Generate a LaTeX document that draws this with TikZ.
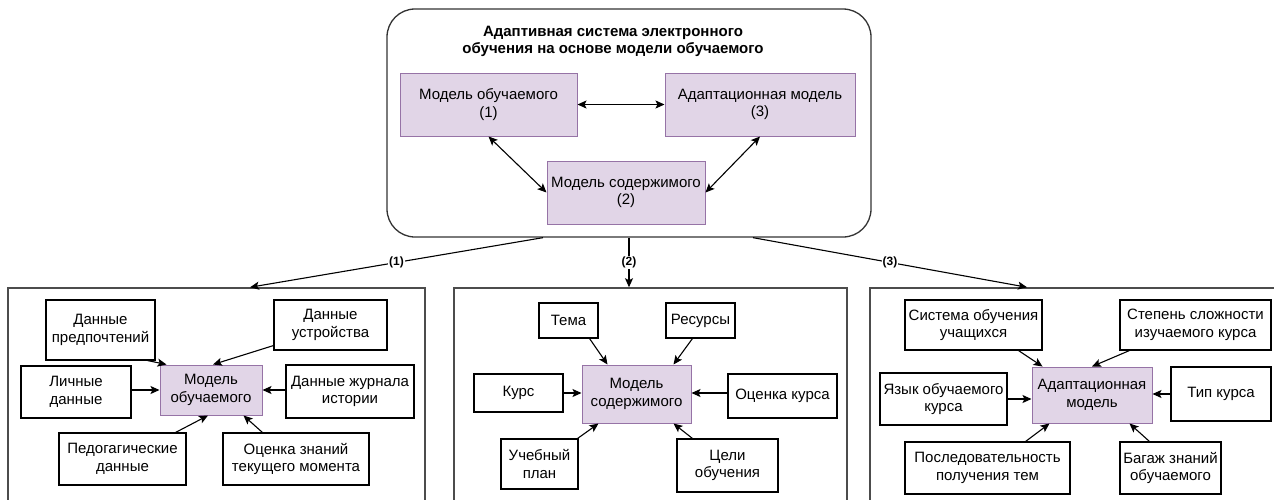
\documentclass[tikz,border=0pt]{standalone}
\usepackage{fontspec}
\setmainfont{Liberation Sans}
\usetikzlibrary{arrows.meta,calc}
\definecolor{pfill}{HTML}{E1D5E7}
\definecolor{pdraw}{HTML}{9673A6}
\begin{document}
\begin{tikzpicture}[x=1pt,y=-1pt,
  txt/.style={font=\fontsize{15}{17.5}\selectfont},
  box/.style={txt, draw=black, line width=1.1pt, fill=white, align=center, inner sep=1pt},
  pbox/.style={txt, draw=pdraw, fill=pfill, line width=1pt, align=center, inner sep=1pt},
  panel/.style={draw=black!70, line width=1.5pt},
  sysbox/.style={draw=black!80, line width=1.3pt, rounded corners=28pt},
  arr/.style={line width=1.1pt, -{Stealth[length=9pt,width=8pt,inset=2pt]}},
  darr/.style={line width=1.1pt, {Stealth[length=9pt,width=8pt,inset=2pt]}-{Stealth[length=9pt,width=8pt,inset=2pt]}},
  lab/.style={fill=white, inner sep=1pt, font=\bfseries\fontsize{12}{14}\selectfont},
  wh/.style 2 args={minimum width=#1pt, minimum height=#2pt}
]
\useasboundingbox (0,0) rectangle (1274,499);
\clip (0,0) rectangle (1274,499);

% ---------- top system box ----------
\node[sysbox, wh={484}{228}] (sys) at (629,123) {};
\node[font=\bfseries\fontsize{15}{17.5}\selectfont, align=center] (title) at (613,41.5)
  {Адаптивная система электронного\\обучения на основе модели обучаемого};
\node[pbox, wh={177}{63}] (b1) at (488.5,104.5) {Модель обучаемого\\(1)};
\node[pbox, wh={190}{63}] (b3) at (760,104.5) {Адаптационная модель\\(3)};
\node[pbox, wh={158}{63}] (b2) at (626,192.5) {Модель содержимого\\(2)};
\draw[darr] (b1.east) -- (b3.west);
\draw[darr] (b1.south) -- (b2.west);
\draw[darr] (b3.south) -- (b2.east);

% ---------- panels ----------
\node[panel, wh={417}{240}] (p1) at (216.5,408) {};
\node[panel, wh={393}{240}] (p2) at (650.5,408) {};
\node[panel, wh={420}{240}] (p3) at (1080,408) {};

\draw[arr] ($(sys.south)+(-86,0)$) -- node[lab]{(1)} ($(p1.north)+(33.5,0)$);
\draw[arr] (sys.south) -- node[lab]{(2)} (p2.north -| sys.south);
\draw[arr] ($(sys.south)+(124,0)$) -- node[lab]{(3)} ($(p3.north)+(-53,0)$);

% ---------- panel 1: learner model ----------
\node[pbox, wh={102}{50}] (lm) at (211,390) {Модель\\обучаемого};
\node[box, wh={109}{60}] (pref) at (100.5,330) {Данные\\предпочтений};
\node[box, wh={113}{50}] (dev) at (330.5,325) {Данные\\устройства};
\node[box, wh={110}{52}] (pers) at (76,392) {Личные\\данные};
\node[box, wh={128}{53}] (hist) at (350,391.5) {Данные журнала\\истории};
\node[box, wh={127}{52}] (ped) at (122.5,459) {Педогагические\\данные};
\node[box, wh={146}{52}] (eval) at (296,459) {Оценка знаний\\текущего момента};
\draw[arr] ($(pref.south east)+(-8,0)$) -- ($(lm.north west)+(7,0)$);
\draw[arr] ($(dev.south west)+(0,-5)$) -- ($(lm.north)+(2,0)$);
\draw[arr] (pers.east |- lm) -- (lm.west);
\draw[arr] (hist.west |- lm) -- (lm.east);
\draw[arr] ($(ped.north east)+(-11,0)$) -- ($(lm.south)+(-3,0)$);
\draw[arr] ($(eval.north west)+(40,0)$) -- ($(lm.south east)+(-19,0)$);

% ---------- panel 2: content model ----------
\node[pbox, wh={109}{58}] (cm) at (636.5,394) {Модель\\содержимого};
\node[box, wh={59}{35}] (tema) at (568.5,320.5) {Тема};
\node[box, wh={69}{35}] (res) at (700.5,320.5) {Ресурсы};
\node[box, wh={89}{38}] (kurs) at (518.5,393) {Курс};
\node[box, wh={109}{44}] (ock) at (782.5,396) {Оценка курса};
\node[box, wh={77}{50}] (plan) at (539.5,464) {Учебный\\план};
\node[box, wh={101}{53}] (goals) at (727.5,465.5) {Цели\\обучения};
\draw[arr] ($(tema.south east)+(-9,0)$) -- ($(cm.north west)+(26,0)$);
\draw[arr] ($(res.south west)+(27,0)$) -- ($(cm.north east)+(-18,0)$);
\draw[arr] (kurs.east) -- (kurs.east -| cm.west);
\draw[arr] (ock.west |- kurs.east) -- (kurs.east -| cm.east);
\draw[arr] ($(plan.north east)+(-1,0)$) -- ($(cm.south west)+(17,0)$);
\draw[arr] ($(goals.north west)+(16,0)$) -- ($(cm.south east)+(-18,0)$);

% ---------- panel 3: adaptation model ----------
\node[pbox, wh={120}{56}] (am) at (1092,395) {Адаптационная\\модель};
\node[box, wh={137}{50}] (sys2) at (973.5,325) {Система обучения\\учащихся};
\node[box, wh={151}{50}] (deg) at (1195.5,325) {Степень сложности\\изучаемого курса};
\node[box, wh={127}{52}] (lang) at (943.5,399) {Язык обучаемого\\курса};
\node[box, wh={100}{54}] (type) at (1221,394) {Тип курса};
\node[box, wh={165}{52}] (seq) at (987.5,468) {Последовательность\\получения тем};
\node[box, wh={101}{52}] (bag) at (1170.5,468) {Багаж знаний\\обучаемого};
\draw[arr] ($(sys2.south east)+(-24,0)$) -- ($(am.north west)+(11,0)$);
\draw[arr] ($(deg.south west)+(10,0)$) -- (am.north);
\draw[arr] (lang.east) -- (lang.east -| am.west);
\draw[arr] (type.west) -- (type.west -| am.east);
\draw[arr] ($(seq.north east)+(-45,0)$) -- ($(am.south west)+(18,0)$);
\draw[arr] ($(bag.north west)+(30,0)$) -- ($(am.south east)+(-23,0)$);
\end{tikzpicture}
\end{document}
